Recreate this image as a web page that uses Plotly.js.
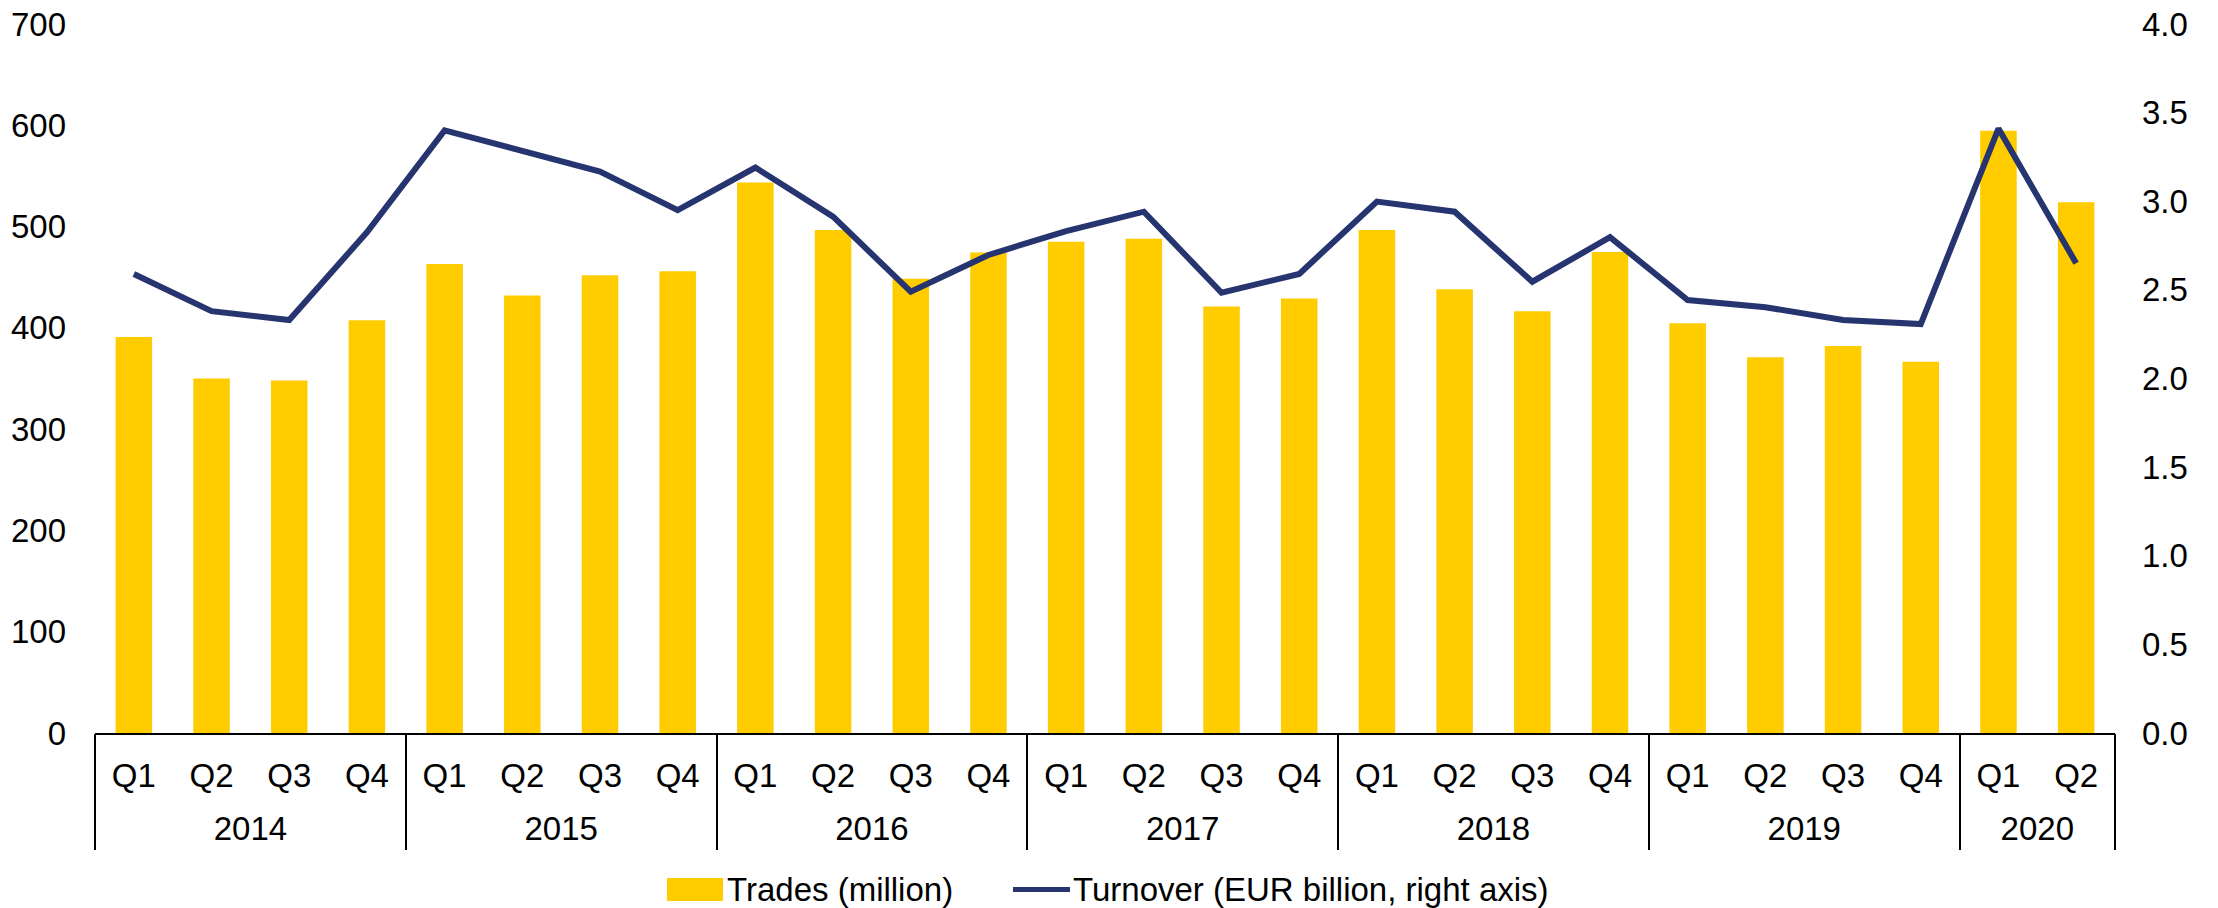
<!DOCTYPE html>
<html>
<head>
<meta charset="utf-8">
<script src="https://cdn.plot.ly/plotly-3.0.1.min.js"></script>
<style>
  html, body { margin: 0; padding: 0; background: #ffffff; }
  #chart { width: 2218px; height: 908px; }
</style>
</head>
<body>
<div id="chart"></div>
<script>
const years = ['2014','2014','2014','2014','2015','2015','2015','2015','2016','2016','2016','2016',
               '2017','2017','2017','2017','2018','2018','2018','2018','2019','2019','2019','2019',
               '2020','2020'];
const quarters = ['Q1','Q2','Q3','Q4','Q1','Q2','Q3','Q4','Q1','Q2','Q3','Q4',
                  'Q1','Q2','Q3','Q4','Q1','Q2','Q3','Q4','Q1','Q2','Q3','Q4',
                  'Q1','Q2'];
const trades = [391, 350, 348, 407.5, 463, 432, 452, 456, 543.5, 496.5, 448.5, 474.5,
                485, 488, 421, 429, 496.5, 438, 416.5, 475, 404.5, 371, 382, 366.5,
                594.5, 524];
const turnover = [2.59, 2.38, 2.33, 2.825, 3.40, 3.285, 3.167, 2.95, 3.19, 2.913, 2.49, 2.697,
                  2.832, 2.941, 2.484, 2.59, 2.998, 2.941, 2.546, 2.797, 2.443, 2.402, 2.33, 2.307,
                  3.41, 2.65];
const leftTicks = [0, 100, 200, 300, 400, 500, 600, 700];
const rightTicks = [0, 0.5, 1.0, 1.5, 2.0, 2.5, 3.0, 3.5, 4.0];
const seriesNames = ['Trades (million)', 'Turnover (EUR billion, right axis)'];

// unique category keys (year + quarter), labelled by quarter only
const cats = years.map((y, i) => y + ' ' + quarters[i]);

// year groups: centre positions for labels, boundaries for divider lines
const groupCenters = [], groupLabels = [], boundaries = [-0.5];
let start = 0;
for (let i = 1; i <= years.length; i++) {
  if (i === years.length || years[i] !== years[start]) {
    groupCenters.push((start + i - 1) / 2);
    groupLabels.push(years[start]);
    boundaries.push(i - 0.5);
    start = i;
  }
}

const W = 2218, H = 908;
const M = {l: 95, r: 103, t: 24, b: 175};
const plotW = W - M.l - M.r, plotH = H - M.t - M.b;
const px2x = px => (px - M.l) / plotW;
const px2y = py => (H - M.b - py) / plotH;

const tickFont = {family: 'Liberation Sans Narrow, Arial Narrow, sans-serif', size: 33, color: '#000000'};
const legendFont = {family: 'Liberation Sans, Arial, sans-serif', size: 33, color: '#000000'};
const barColor = '#FFCC00';
const lineColor = '#263570';

const data = [
  {
    type: 'bar',
    name: seriesNames[0],
    x: cats,
    y: trades,
    marker: {color: barColor},
    xaxis: 'x',
    yaxis: 'y'
  },
  {
    type: 'scatter',
    mode: 'lines',
    name: seriesNames[1],
    x: cats,
    y: turnover,
    line: {color: lineColor, width: 6},
    xaxis: 'x',
    yaxis: 'y2'
  },
  {
    // carrier for the year-group axis (no visible marks)
    type: 'scatter',
    mode: 'markers',
    name: 'year groups',
    x: groupCenters,
    y: groupCenters.map(() => null),
    marker: {opacity: 0},
    showlegend: false,
    hoverinfo: 'skip',
    xaxis: 'x2',
    yaxis: 'y'
  }
];

const legendY = px2y(889.5);

const layout = {
  width: W,
  height: H,
  margin: M,
  paper_bgcolor: '#ffffff',
  plot_bgcolor: '#ffffff',
  bargap: 0.53,
  showlegend: false,
  xaxis: {
    type: 'category',
    range: [-0.5, years.length - 0.5],
    tickvals: cats,
    ticktext: quarters,
    showline: true,
    linecolor: '#000000',
    linewidth: 2,
    showgrid: false,
    zeroline: false,
    ticks: '',
    ticklabelstandoff: 12,
    tickfont: tickFont
  },
  xaxis2: {
    type: 'linear',
    overlaying: 'x',
    anchor: 'y',
    side: 'bottom',
    range: [-0.5, years.length - 0.5],
    tickmode: 'array',
    tickvals: groupCenters,
    ticktext: groupLabels,
    showline: false,
    showgrid: false,
    zeroline: false,
    ticks: '',
    ticklabelstandoff: 73,
    tickfont: tickFont,
    minor: {
      tickmode: 'array',
      tickvals: boundaries,
      ticks: 'outside',
      ticklen: 116,
      tickwidth: 2,
      tickcolor: '#000000',
      showgrid: false
    }
  },
  yaxis: {
    range: [0, 700],
    tickvals: leftTicks,
    showgrid: false,
    zeroline: false,
    showline: false,
    ticks: '',
    ticklabelstandoff: 28,
    tickfont: tickFont
  },
  yaxis2: {
    range: [0, 4],
    tickvals: rightTicks,
    tickformat: '.1f',
    overlaying: 'y',
    side: 'right',
    showgrid: false,
    zeroline: false,
    showline: false,
    ticks: '',
    ticklabelstandoff: 26,
    tickfont: tickFont
  },
  shapes: [
    {type: 'rect', xref: 'paper', yref: 'paper',
     x0: px2x(667), x1: px2x(723), y0: px2y(878), y1: px2y(901),
     fillcolor: barColor, line: {width: 0}},
    {type: 'line', xref: 'paper', yref: 'paper',
     x0: px2x(1013), x1: px2x(1070), y0: legendY, y1: legendY,
     line: {color: lineColor, width: 5}}
  ],
  annotations: [
    {xref: 'paper', yref: 'paper', x: px2x(725), y: legendY, xanchor: 'left', yanchor: 'middle',
     text: seriesNames[0], showarrow: false, font: legendFont},
    {xref: 'paper', yref: 'paper', x: px2x(1071), y: legendY, xanchor: 'left', yanchor: 'middle',
     text: seriesNames[1], showarrow: false, font: legendFont}
  ]
};

Plotly.newPlot('chart', data, layout, {staticPlot: true, displayModeBar: false});
</script>
</body>
</html>
